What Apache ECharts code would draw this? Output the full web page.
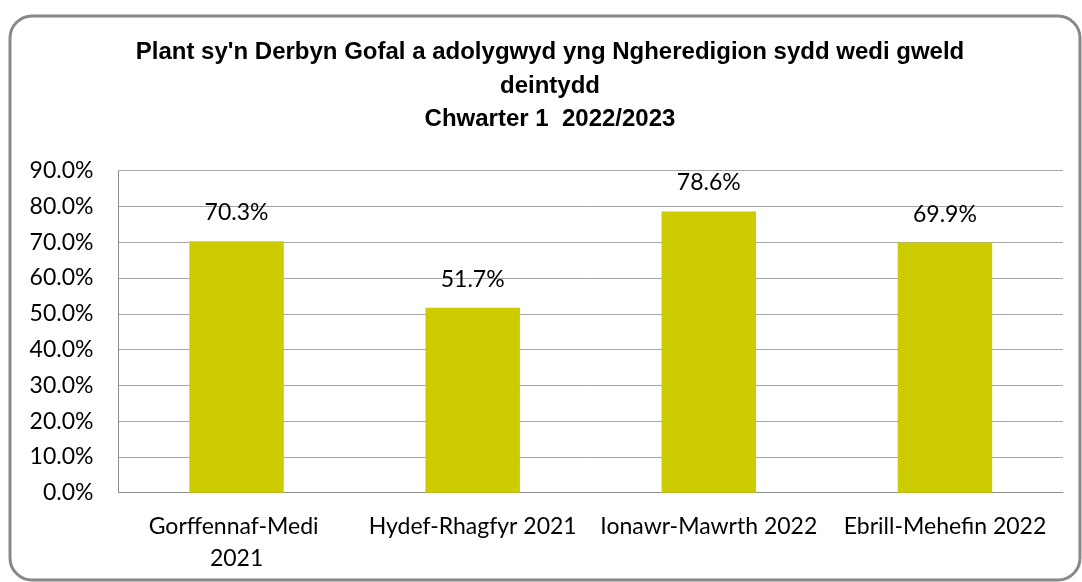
<!DOCTYPE html>
<html>
<head>
<meta charset="utf-8">
<script src="https://cdn.jsdelivr.net/npm/echarts@6/dist/echarts.min.js"></script>
<style>
html,body{margin:0;padding:0;background:#fff;}
#chart{width:1082px;height:582px;}
</style>
</head>
<body>
<div id="chart"></div>
<script>
const titleLines = [
  "Plant sy'n Derbyn Gofal a adolygwyd yng Ngheredigion sydd wedi gweld",
  "deintydd",
  "Chwarter 1  2022/2023"
];
const categories = ["Gorffennaf-Medi 2021", "Hydef-Rhagfyr 2021", "Ionawr-Mawrth 2022", "Ebrill-Mehefin 2022"];
const values = [70.3, 51.7, 78.6, 69.9];
const yTicks = { min: 0, max: 90, interval: 10 };

const chart = echarts.init(document.getElementById('chart'), null, { renderer: 'canvas' });
chart.setOption({
  animation: false,
  backgroundColor: '#ffffff',
  graphic: [{
    type: 'rect',
    shape: { x: 10, y: 16, width: 1070, height: 564, r: 22 },
    style: { fill: 'none', stroke: '#888888', lineWidth: 3 },
    z: 100
  }],
  title: {
    text: titleLines.join('\n'),
    left: 550,
    textAlign: 'center',
    top: 36,
    padding: 0,
    textStyle: {
      fontFamily: 'Liberation Sans, Arial, sans-serif',
      fontWeight: 'bold',
      fontSize: 24,
      lineHeight: 33.5,
      color: '#000'
    }
  },
  grid: { left: 118.5, right: 19, top: 170.7, bottom: 89.3, containLabel: false },
  xAxis: {
    type: 'category',
    data: categories,
    axisLine: { lineStyle: { color: '#8c8c8c', width: 1 } },
    axisTick: { show: false },
    axisLabel: {
      fontFamily: 'Lato, sans-serif',
      fontSize: 23,
      color: '#000',
      margin: 18,
      lineHeight: 32,
      width: 222,
      overflow: 'break',
      interval: 0
    }
  },
  yAxis: {
    type: 'value',
    min: yTicks.min,
    max: yTicks.max,
    interval: yTicks.interval,
    axisLine: { show: true, lineStyle: { color: '#8c8c8c', width: 1 } },
    axisTick: { show: false },
    splitLine: { lineStyle: { color: '#a6a6a6', width: 1 } },
    axisLabel: {
      fontFamily: 'Lato, sans-serif',
      fontSize: 23,
      color: '#000',
      margin: 25,
      formatter: v => v.toFixed(1) + '%'
    }
  },
  series: [{
    type: 'bar',
    data: values,
    barWidth: '40%',
    itemStyle: { color: '#cccc00' },
    label: {
      show: true,
      position: 'top',
      distance: 17,
      fontFamily: 'Lato, sans-serif',
      fontSize: 23,
      color: '#000',
      formatter: p => p.value.toFixed(1) + '%'
    }
  }]
});
</script>
</body>
</html>
